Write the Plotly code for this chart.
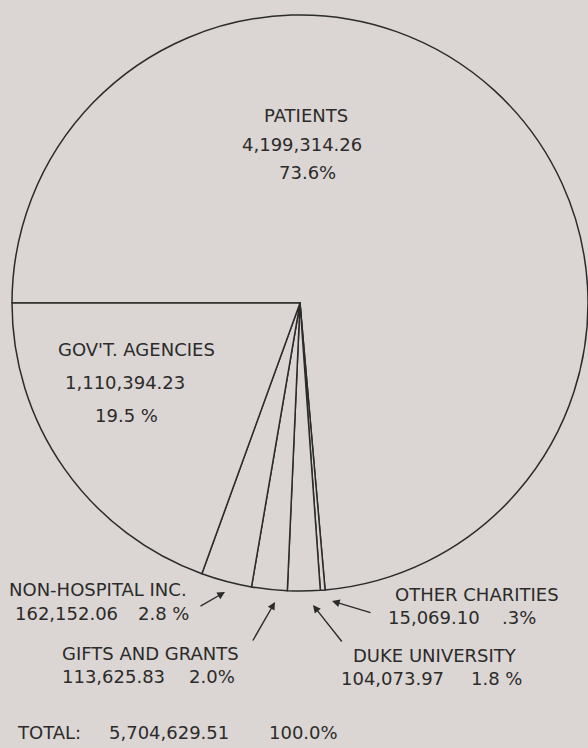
import plotly.graph_objects as go

# ---- data ----
categories = ["PATIENTS", "OTHER CHARITIES", "DUKE UNIVERSITY",
              "GIFTS AND GRANTS", "NON-HOSPITAL INC.", "GOV'T. AGENCIES"]
amounts = [4199314.26, 15069.10, 104073.97, 113625.83, 162152.06, 1110394.23]
pct_labels = ["73.6%", ".3%", "1.8 %", "2.0%", "2.8 %", "19.5 %"]
total_label = "TOTAL:"
total_amount = 5704629.51
total_pct = "100.0%"

# ---- styling / layout (positions in pixels from top-left) ----
W, H = 588, 748
BG = "#dbd6d3"
INK = "#2b2b2b"
FONT = dict(family="DejaVu Sans, Liberation Sans, sans-serif", size=18, color=INK)

# name, amount, pct positions: (x, y, anchor)
text_pos = {
    "PATIENTS": [(306, 116, "center"), (302, 144, "center"), (307, 172, "center")],
    "GOV'T. AGENCIES": [(56, 349, "left"), (63, 382, "left"), (93, 415, "left")],
    "NON-HOSPITAL INC.": [(7, 589, "left"), (13, 613, "left"), (136, 613, "left")],
    "GIFTS AND GRANTS": [(60, 653, "left"), (60, 676, "left"), (187, 676, "left")],
    "OTHER CHARITIES": [(393, 594, "left"), (386, 617, "left"), (500, 617, "left")],
    "DUKE UNIVERSITY": [(351, 655, "left"), (339, 678, "left"), (469, 678, "left")],
}
# arrow head, arrow tail
arrow_pos = {
    "NON-HOSPITAL INC.": ((225, 592), (199, 607)),
    "GIFTS AND GRANTS": ((275, 602), (252, 642)),
    "DUKE UNIVERSITY": ((313, 605), (343, 643)),
    "OTHER CHARITIES": ((332, 601), (372, 613)),
}
total_pos = [(15, 732), (107, 732), (267, 732)]

# pie geometry: centre (300, 303), radius 288
cx, cy, r = 300, 303, 288
dom_x = [(cx - r) / W, min(1.0, (cx + r) / W)]
dom_y = [1 - (cy + r + 2) / H, 1 - (cy - r - 2) / H]


def px(x):
    return x / W


def py(y):
    return 1 - y / H


fig = go.Figure(go.Pie(
    labels=categories,
    values=amounts,
    sort=False,
    direction="clockwise",
    rotation=-90,
    textinfo="none",
    hoverinfo="label+value",
    marker=dict(colors=[BG] * len(categories), line=dict(color=INK, width=1.5)),
    domain=dict(x=dom_x, y=dom_y),
    showlegend=False,
))

annotations = []
for name, amt, pct in zip(categories, amounts, pct_labels):
    pos = text_pos[name]
    for (x, y, anc), txt in zip(pos, [name, f"{amt:,.2f}", pct]):
        annotations.append(dict(
            x=px(x), y=py(y), xref="paper", yref="paper", text=txt,
            showarrow=False, xanchor=anc, yanchor="middle", font=FONT,
        ))
    if name in arrow_pos:
        (hx, hy), (tx, ty) = arrow_pos[name]
        annotations.append(dict(
            x=px(hx), y=py(hy), xref="paper", yref="paper", text="",
            showarrow=True, arrowhead=2, arrowsize=1.1, arrowwidth=1.4,
            arrowcolor=INK, ax=tx - hx, ay=ty - hy, standoff=0, startstandoff=0,
        ))

for (x, y), txt in zip(total_pos, [total_label, f"{total_amount:,.2f}", total_pct]):
    annotations.append(dict(
        x=px(x), y=py(y), xref="paper", yref="paper", text=txt,
        showarrow=False, xanchor="left", yanchor="middle", font=FONT,
    ))

fig.update_layout(
    width=W, height=H, autosize=False,
    margin=dict(l=0, r=0, t=0, b=0),
    paper_bgcolor=BG, plot_bgcolor=BG,
    annotations=annotations,
    font=FONT,
)

fig.write_html("out.html", config={"displayModeBar": False},
               post_script="document.body.style.margin='0';document.body.style.background='%s';" % BG)
